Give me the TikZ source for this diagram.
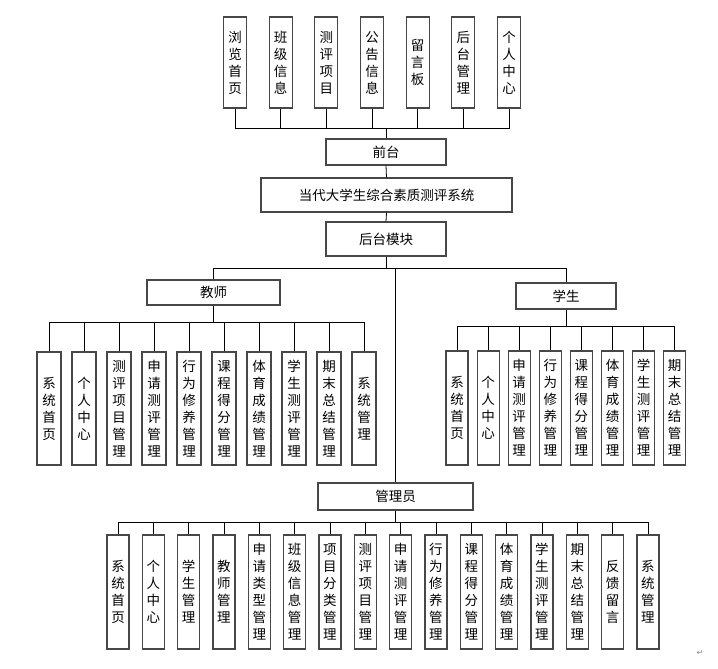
\documentclass[tikz,border=0pt]{standalone}
\usepackage{fontspec}
\newfontfamily\cjk{Noto Sans CJK SC}
\newfontfamily\dejavu{DejaVu Sans}
\def\vstack#1{\vstackA#1\vstackend}
\def\vstackA#1#2{#1\ifx#2\vstackend\else\\\expandafter\vstackA\expandafter#2\fi}
\def\vst#1{\expandafter\vstack\expandafter{#1}}
\tikzset{
  box/.style={draw=black!72, line width=1.1pt, fill=white, inner sep=0pt, align=center,
    font=\cjk\fontsize{13.5}{17}\selectfont},
  vbox/.style={box, minimum width=#1, text width=14pt},
  link/.style={draw=black, line width=0.8pt}
}
\begin{document}
\begin{tikzpicture}[x=1pt,y=-1pt]
\useasboundingbox (0,0) rectangle (718,669);
% front nodes
\node[box, minimum width=120pt, minimum height=26pt] (qt) at (386,152) {前台};
\node[box, minimum width=251pt, minimum height=34pt] (sys) at (386.5,195) {当代大学生综合素质测评系统};
\node[box, minimum width=120pt, minimum height=34pt] (ht) at (386,239) {后台模块};
\node[box, minimum width=133pt, minimum height=25pt] (js) at (213.5,292.5) {教师};
\node[box, minimum width=100pt, minimum height=26pt] (xs) at (566,296) {学生};
\node[box, minimum width=155pt, minimum height=27pt] (gly) at (395.5,496.5) {管理员};
% top row
\coordinate (b1) at (386,128);
\foreach \t [count=\i from 0] in {浏览首页,班级信息,测评项目,公告信息,留言板,后台管理,个人中心}{
  \node[vbox=23pt, minimum height=91pt] (t\i) at ({235+45.67*\i},62.5) {\vst{\t}};
  \draw[link] (t\i.south) |- (b1);
}
\draw[link] (b1) -- (qt.north);
\draw[link] (qt.south) -- (sys.north);
\draw[link] (sys.south) -- (ht.north);
% backend bus
\coordinate (b2) at (386,268);
\draw[link] (ht.south) -- (b2);
\draw[link] (js.north) |- (b2);
\draw[link] (xs.north) |- (b2);
\draw[link] (gly.north) -- (gly.north |- b2);
% teacher
\coordinate (b3) at (213.5,322);
\draw[link] (js.south) -- (b3);
\foreach \t [count=\i from 0] in {系统首页,个人中心,测评项目管理,申请测评管理,行为修养管理,课程得分管理,体育成绩管理,学生测评管理,期末总结管理,系统管理}{
  \node[vbox=24pt, minimum height=113pt] (jc\i) at ({49+35*\i},408.5) {\vst{\t}};
  \draw[link] (jc\i.north) |- (b3);
}
% student
\coordinate (b4) at (566,326);
\draw[link] (xs.south) -- (b4);
\foreach \t [count=\i from 0] in {系统首页,个人中心,申请测评管理,行为修养管理,课程得分管理,体育成绩管理,学生测评管理,期末总结管理}{
  \node[vbox=22pt, minimum height=114pt] (xc\i) at ({457+31.1*\i},408) {\vst{\t}};
  \draw[link] (xc\i.north) |- (b4);
}
% admin
\coordinate (b5) at (395.5,522);
\draw[link] (gly.south) -- (b5);
\foreach \t [count=\i from 0] in {系统首页,个人中心,学生管理,教师管理,申请类型管理,班级信息管理,项目分类管理,测评项目管理,申请测评管理,行为修养管理,课程得分管理,体育成绩管理,学生测评管理,期末总结管理,反馈留言,系统管理}{
  \node[vbox=22pt, minimum height=114pt] (gc\i) at ({118+35.33*\i},592) {\vst{\t}};
  \draw[link] (gc\i.north) |- (b5);
}
\node[font=\dejavu\fontsize{8}{8}\selectfont, text=black!45, inner sep=0pt] (ret) at (700,653) {↵};
\end{tikzpicture}
\end{document}
